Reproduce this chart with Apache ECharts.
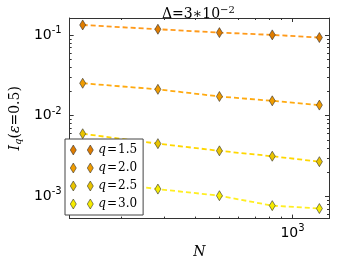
<!DOCTYPE html>
<html><head><meta charset="utf-8">
<script src="https://cdn.jsdelivr.net/npm/echarts@6/dist/echarts.min.js"></script>
<style>html,body{margin:0;padding:0;background:#fff}#c{width:353px;height:264px}</style>
</head><body><div id="c"></div>
<script>
const N = [139, 282, 503, 827, 1288];
const q15 = [0.1327, 0.1175, 0.1067, 0.1000, 0.0927];
const q20 = [0.0251, 0.0211, 0.0172, 0.0152, 0.01345];
const q25 = [0.00593, 0.00447, 0.00364, 0.00312, 0.00267];
const q30 = [0.00160, 0.00122, 0.00101, 0.00076, 0.00070];
const seriesNames = ['q=1.5', 'q=2.0', 'q=2.5', 'q=3.0'];
const seriesValues = [q15, q20, q25, q30];
const markerColors = ['#e07d00', '#f09c00', '#e9c400', '#f6ec00'];
const lineColors = ['#ff9a1a', '#ffaa10', '#ffd700', '#ffee22'];
const xMinorTicks = [200, 300, 400, 500, 600, 700, 800, 900];
const yMinorTicks = [0.0006, 0.0007, 0.0008, 0.0009, 0.002, 0.003, 0.004, 0.005, 0.006, 0.007, 0.008, 0.009,
  0.02, 0.03, 0.04, 0.05, 0.06, 0.07, 0.08, 0.09];

const chart = echarts.init(document.getElementById('c'));
const supFmt = v => { const e = Math.round(Math.log10(v)); return '{b|10}{s|' + (e < 0 ? '-' : '') + Math.abs(e) + '}'; };
const tickLabelRich = {
  b: {fontFamily: 'DejaVu Sans', fontSize: 14, color: '#000'},
  s: {fontFamily: 'DejaVu Sans', fontSize: 10, color: '#000', verticalAlign: 'top', padding: [0, 0, 9, 0]}
};
const frame = {show: true, onZero: false, lineStyle: {color: '#333', width: 1}};
const serif = 'DejaVu Serif';
const tickStyle = {stroke: '#333', lineWidth: 1};

const series = seriesNames.map((name, i) => ({
  name: name,
  type: 'line',
  xAxisIndex: 0, yAxisIndex: 0,
  data: N.map((n, j) => [n, seriesValues[i][j]]),
  symbol: 'diamond',
  symbolSize: [6, 10],
  itemStyle: {color: markerColors[i], borderColor: '#333', borderWidth: 0.6},
  lineStyle: {color: lineColors[i], width: 1.8, type: [5, 3]},
  z: 2 + (4 - i)
}));

series.push({
  type: 'custom', xAxisIndex: 0, yAxisIndex: 0, silent: true, clip: false, z: 1,
  data: yMinorTicks.map(v => [N[0], v]),
  renderItem: (params, api) => {
    const cs = params.coordSys;
    const y = Math.round(api.coord([api.value(0), api.value(1)])[1]) + 0.5;
    return {type: 'group', children: [
      {type: 'line', shape: {x1: cs.x, y1: y, x2: cs.x + 2, y2: y}, style: tickStyle},
      {type: 'line', shape: {x1: cs.x + cs.width - 2, y1: y, x2: cs.x + cs.width, y2: y}, style: tickStyle}
    ]};
  }
});
series.push({
  type: 'custom', xAxisIndex: 0, yAxisIndex: 0, silent: true, clip: false, z: 1,
  data: xMinorTicks.map(v => [v, q15[0]]),
  renderItem: (params, api) => {
    const cs = params.coordSys;
    const x = Math.round(api.coord([api.value(0), api.value(1)])[0]) + 0.5;
    return {type: 'group', children: [
      {type: 'line', shape: {x1: x, y1: cs.y, x2: x, y2: cs.y + 2}, style: tickStyle},
      {type: 'line', shape: {x1: x, y1: cs.y + cs.height - 2, x2: x, y2: cs.y + cs.height}, style: tickStyle}
    ]};
  }
});

chart.setOption({
  animation: false,
  backgroundColor: '#fff',
  title: {
    text: '{a|Δ}{n|=3∗10}{s|−2}',
    left: 157, top: 0,
    textStyle: {
      fontWeight: 'normal',
      rich: {
        a: {fontFamily: serif, fontSize: 14, fontWeight: 'normal', color: '#000'},
        n: {fontFamily: serif, fontSize: 14, fontWeight: 'normal', color: '#000'},
        s: {fontFamily: serif, fontSize: 10, fontWeight: 'normal', color: '#000', verticalAlign: 'top', padding: [0, 0, 8, 0]}
      }
    }
  },
  grid: {left: 59, right: 24, top: 18, bottom: 43, containLabel: false},
  legend: {
    left: 65, top: 139,
    orient: 'vertical',
    data: seriesNames,
    icon: 'path://M3 0 L6 5 L3 10 L0 5 Z M20 0 L23 5 L20 10 L17 5 Z',
    itemWidth: 23, itemHeight: 10, itemGap: 4, itemTextGap: 11,
    padding: [4, 6, 4, 5],
    borderColor: '#444', borderWidth: 1, backgroundColor: '#fff',
    itemStyle: {borderColor: '#333', borderWidth: 0.6},
    formatter: n => '{i|q}{e|=}{n|' + n.split('=')[1] + '}',
    textStyle: {
      lineHeight: 14,
      rich: {
        i: {fontFamily: serif, fontStyle: 'italic', fontSize: 12, color: '#000'},
        e: {fontFamily: serif, fontSize: 12, color: '#000', padding: [0, 1, 0, 1]},
        n: {fontFamily: serif, fontSize: 12, color: '#000'}
      }
    },
    z: 20
  },
  xAxis: [{
    type: 'log', logBase: 10, min: 123, max: 1410, position: 'bottom',
    name: 'N', nameLocation: 'middle', nameGap: 24,
    nameTextStyle: {fontFamily: serif, fontStyle: 'italic', fontSize: 14, color: '#000'},
    axisLine: frame,
    axisTick: {inside: true, length: 4, lineStyle: {color: '#333'}},
    axisLabel: {formatter: supFmt, rich: tickLabelRich, showMinLabel: false, showMaxLabel: false, margin: 5},
    splitLine: {show: false}
  }, {
    type: 'log', logBase: 10, min: 123, max: 1410, position: 'top',
    axisLine: frame,
    axisTick: {inside: true, length: 4, lineStyle: {color: '#333'}},
    axisLabel: {show: false}, splitLine: {show: false}
  }],
  yAxis: [{
    type: 'log', logBase: 10, min: 0.000525, max: 0.162, position: 'left',
    name: '{i|I}{sub|q}{n|(}{i|ε}{n|=0.5)}', nameLocation: 'middle', nameGap: 42, nameRotate: 90,
    nameTextStyle: {
      rich: {
        i: {fontFamily: serif, fontStyle: 'italic', fontSize: 14, color: '#000'},
        n: {fontFamily: serif, fontSize: 14, color: '#000'},
        sub: {fontFamily: serif, fontStyle: 'italic', fontSize: 10, color: '#000', verticalAlign: 'bottom', padding: [6, 0, 0, 0]}
      }
    },
    axisLine: frame,
    axisTick: {inside: true, length: 4, lineStyle: {color: '#333'}},
    axisLabel: {formatter: supFmt, rich: tickLabelRich, showMinLabel: false, showMaxLabel: false, margin: 8},
    splitLine: {show: false}
  }, {
    type: 'log', logBase: 10, min: 0.000525, max: 0.162, position: 'right',
    axisLine: frame,
    axisTick: {inside: true, length: 4, lineStyle: {color: '#333'}},
    axisLabel: {show: false}, splitLine: {show: false}
  }],
  series: series
});
</script>
</body></html>
